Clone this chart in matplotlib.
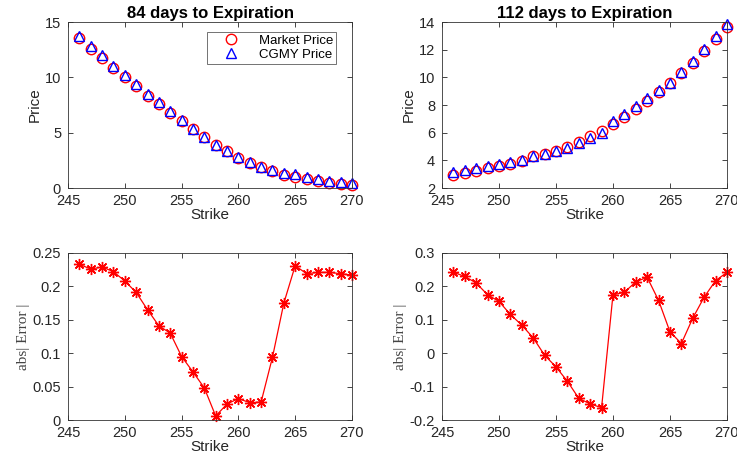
import matplotlib
matplotlib.use("Agg")
import matplotlib.pyplot as plt

plt.rcParams["font.family"] = ["Liberation Sans", "DejaVu Sans"]

strike = list(range(246, 271))

market_84 = [13.55, 12.60, 11.75, 10.85, 10.00, 9.20, 8.35, 7.60, 6.80, 6.05,
             5.30, 4.60, 3.90, 3.35, 2.75, 2.30, 1.90, 1.55, 1.20, 1.00,
             0.80, 0.60, 0.45, 0.35, 0.25]
cgmy_84 = [13.78, 12.83, 11.98, 11.07, 10.21, 9.39, 8.51, 7.74, 6.93, 6.15,
           5.37, 4.65, 3.91, 3.37, 2.78, 2.33, 1.93, 1.64, 1.38, 1.23,
           1.02, 0.82, 0.67, 0.57, 0.47]
error_84 = [0.233, 0.226, 0.229, 0.222, 0.208, 0.191, 0.165, 0.141, 0.130, 0.095,
            0.072, 0.048, 0.006, 0.024, 0.032, 0.026, 0.027, 0.094, 0.175, 0.231,
            0.219, 0.221, 0.221, 0.219, 0.217]

market_112 = [2.91, 3.08, 3.25, 3.42, 3.56, 3.73, 3.92, 4.28, 4.47, 4.71,
              5.00, 5.36, 5.79, 6.13, 6.66, 7.16, 7.71, 8.31, 8.91, 9.56,
              10.33, 11.07, 11.91, 12.80, 13.64]
cgmy_112 = [3.15, 3.31, 3.46, 3.60, 3.72, 3.85, 4.00, 4.33, 4.46, 4.67,
            4.92, 5.23, 5.64, 5.97, 6.84, 7.34, 7.92, 8.54, 9.07, 9.62,
            10.36, 11.18, 12.08, 13.02, 13.88]
error_112 = [0.242, 0.230, 0.210, 0.175, 0.155, 0.116, 0.084, 0.046, -0.006, -0.041,
             -0.084, -0.135, -0.152, -0.163, 0.175, 0.182, 0.214, 0.227, 0.158, 0.064,
             0.029, 0.105, 0.168, 0.217, 0.242]

fig = plt.figure(figsize=(7.37, 4.55), dpi=100)
ax_tl = fig.add_axes([0.0923, 0.5868, 0.3853, 0.3648])
ax_tr = fig.add_axes([0.5997, 0.5868, 0.3867, 0.3648])
ax_bl = fig.add_axes([0.0923, 0.0769, 0.3853, 0.3671])
ax_br = fig.add_axes([0.5997, 0.0769, 0.3867, 0.3671])

err_label = dict(family=["Liberation Serif", "DejaVu Serif"], fontsize=11, color="#444444")


def style(ax):
    ax.set_xlim(245, 270)
    ax.set_xticks(range(245, 271, 5))
    ax.tick_params(direction="in", top=True, right=True, labelsize=10.5,
                   length=3.5, width=0.6, colors="#262626")
    ax.tick_params(axis="x", pad=4)
    ax.tick_params(axis="y", pad=5)
    for s in ax.spines.values():
        s.set_linewidth(0.6)
        s.set_color("#333333")
    ax.set_xlabel("Strike", fontsize=11, labelpad=0, color="#262626")


for ax, mk, cg, title, ylim, yt in [
    (ax_tl, market_84, cgmy_84, "84 days to Expiration", (0, 15), range(0, 16, 5)),
    (ax_tr, market_112, cgmy_112, "112 days to Expiration", (2, 14), range(2, 15, 2)),
]:
    ax.plot(strike, mk, "o", ls="none", mfc="none", mec="red", ms=7.5, mew=1.0,
            label="Market Price", clip_on=False)
    ax.plot(strike, cg, "^", ls="none", mfc="none", mec="blue", ms=7.5, mew=1.0,
            label="CGMY Price", clip_on=False)
    style(ax)
    ax.set_ylim(*ylim)
    ax.set_yticks(list(yt))
    ax.set_ylabel("Price", fontsize=11, labelpad=2, color="#262626")
    ax.set_title(title, fontsize=12, fontweight="bold", pad=3)

leg = ax_tl.legend(loc="upper right", bbox_to_anchor=(0.945, 0.94), fontsize=9.5,
                   frameon=True, fancybox=False, handletextpad=0.5, borderpad=0.2,
                   labelspacing=0.15, handlelength=3.3, borderaxespad=0)
leg.get_frame().set_edgecolor("#333333")
leg.get_frame().set_linewidth(0.6)

for ax, err, ylim, yt in [
    (ax_bl, error_84, (0, 0.25), [0, 0.05, 0.1, 0.15, 0.2, 0.25]),
    (ax_br, error_112, (-0.2, 0.3), [-0.2, -0.1, 0, 0.1, 0.2, 0.3]),
]:
    ax.plot(strike, err, color="red", lw=0.9, marker=(8, 2, 0), ms=8, mew=1.0,
            mec="red", clip_on=False)
    style(ax)
    ax.set_ylim(*ylim)
    ax.set_yticks(yt)
    ax.set_yticklabels([f"{v:g}" for v in yt])
    ax.set_ylabel("abs| Error |", labelpad=2, **err_label)

fig.savefig("out.png", dpi=100)
